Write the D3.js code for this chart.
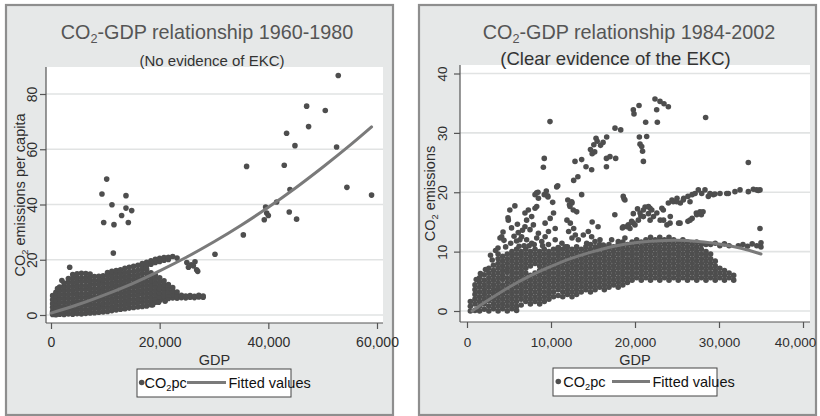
<!DOCTYPE html>
<html>
<head>
<meta charset="utf-8">
<script src="https://cdn.jsdelivr.net/npm/d3@7"></script>
<style>
  body { margin: 0; background: #fff; }
  svg { display: block; }
  text { font-family: "Liberation Sans", Arial, Helvetica, sans-serif; }
</style>
</head>
<body>
<svg id="chart" width="820" height="416"></svg>
<script>
// ---- axis ticks ----
const earlyTicksX = [0, 20000, 40000, 60000];
const earlyTicksY = [0, 20, 40, 60, 80];
const lateTicksX = [0, 10000, 20000, 30000, 40000];
const lateTicksY = [0, 10, 20, 30, 40];

// ---- quadratic fitted values, [GDP, fitted CO2] ----
const earlyFit = [[0,0.7],[5000,3.8],[10000,7.4],[15000,11.4],[20000,16.0],[25000,21.0],[30000,26.5],
  [35000,32.5],[40000,39.0],[45000,46.0],[50000,53.5],[55000,61.4],[59000,68.1]];
const lateFit = [[600,0.0],[2500,1.8],[5000,4.0],[7500,5.9],[10000,7.5],[12500,8.9],[15000,10.0],
  [17500,10.9],[20000,11.5],[22500,11.8],[25000,11.9],[27500,11.7],[30000,11.3],[32500,10.6],[35000,9.6]];

// ---- 1960-1980 observations: dense part as [GDP, co2, co2, ...] columns ----
const earlyCols = [
  [300,0.2,1.4,2.8,4.1,5.5,7.0],
  [900,0.1,1.2,2.6,4.0,5.3,6.8,8.2],
  [1600,0.3,1.5,2.9,4.4,5.9,7.3,8.8,10.1],
  [2400,0.2,1.6,3.0,4.5,6.0,7.4,8.9,10.3,11.6],
  [3200,0.4,1.8,3.2,4.6,6.1,7.5,9.0,10.4,11.9,13.2],
  [4000,0.3,1.7,3.1,4.6,6.0,7.5,8.9,10.4,11.8,13.3,14.6],
  [4800,0.5,1.9,3.4,4.8,6.3,7.7,9.2,10.6,12.0,13.5,14.9],
  [5600,0.4,1.9,3.3,4.8,6.2,7.6,9.1,10.5,12.0,13.4,15.1],
  [6400,0.6,2.0,3.5,4.9,6.4,7.8,9.3,10.7,12.2,13.6,15.0],
  [7200,0.7,2.1,3.6,5.0,6.5,7.9,9.4,10.8,12.3,13.7,14.8],
  [8000,0.8,2.3,3.7,5.2,6.6,8.1,9.5,11.0,12.4,13.9],
  [8800,1.0,2.5,3.9,5.4,6.8,8.3,9.7,11.2,12.6,14.0],
  [9600,1.1,2.6,4.0,5.5,6.9,8.4,9.8,11.3,12.7,14.2],
  [10400,1.3,2.8,4.2,5.7,7.1,8.6,10.0,11.5,12.9,14.3,15.4],
  [11200,1.6,3.0,4.5,5.9,7.4,8.8,10.3,11.7,13.2,14.6,15.8],
  [12000,1.8,3.3,4.7,6.2,7.6,9.1,10.5,12.0,13.4,14.9,16.1],
  [12800,2.1,3.5,5.0,6.4,7.9,9.3,10.8,12.2,13.7,15.1,16.4],
  [13600,2.3,3.8,5.2,6.7,8.1,9.6,11.0,12.5,13.9,15.4,16.9],
  [14400,2.5,4.0,5.4,6.9,8.3,9.8,11.2,12.7,14.1,15.6,17.3],
  [15200,2.7,4.2,5.6,7.1,8.5,10.0,11.4,12.9,14.3,15.8,17.6],
  [16000,2.9,4.4,5.8,7.3,8.7,10.2,11.6,13.1,14.6,16.2,18.0],
  [16800,3.1,4.6,6.0,7.5,8.9,10.4,11.8,13.3,14.9,16.4,17.6,18.6],
  [17600,3.3,4.8,6.2,7.7,9.1,10.6,12.0,13.6,15.1,16.6,18.0,19.1],
  [18400,3.7,5.0,6.4,7.9,9.3,10.8,12.3,13.8,15.3,18.4,19.6],
  [19200,4.6,5.9,7.3,8.8,10.2,11.6,13.0,14.5,19.0,20.2],
  [20000,5.3,6.5,7.9,9.3,10.6,12.0,13.5,19.4,20.5],
  [20800,5.8,7.0,8.4,9.7,11.0,12.4,19.8,20.8],
  [21600,6.0,7.2,8.5,9.8,11.0,20.1,20.9],
  [22400,6.2,7.4,8.6,9.9,21.2],
  [23200,6.1,7.0,8.3,20.6],
  [24000,6.3,7.1],
  [24800,6.2,6.9],
  [25600,6.4,7.0],
  [26400,6.3,6.8],
  [27200,6.5,7.1],
  [28000,6.4,6.9]
];
// ---- 1960-1980 observations outside the dense part, [GDP, CO2] ----
const earlyPts = [
  [3440,17.3],[1200,9.6],[2000,12.5],[18700,3.6],[19800,4.6],[21000,5.0],
  [10250,49.2],[9380,43.8],[13800,43.2],[11220,39.9],[13800,38.7],[14850,37.8],[13000,36.0],
  [9700,33.5],[11590,32.7],[14230,33.5],[11470,22.4],
  [25000,19.0],[25800,18.2],[26500,19.3],[26800,16.4],[25300,17.3],[27000,15.8],[26200,17.8],
  [30180,22.0],[35400,29.0],[36000,53.8],[42930,54.2],[43980,45.4],[54460,46.2],[59000,43.4],
  [39500,39.1],[41530,40.9],[39700,36.9],[40000,36.0],[39250,34.5],[43850,37.3],[45200,34.7],
  [44900,61.3],[52560,60.8],[43360,65.8],[47410,68.2],[50480,74.0],[47050,75.6],[52870,86.7]
];

// ---- 1984-2002 observations: dense part as [GDP, co2, co2, ...] columns ----
const lateCols = [
  [400,0.0,0.8,1.6],
  [950,0.1,1.2,2.0,2.8,3.6,4.4],
  [1500,0.0,0.8,1.6,2.4,3.2,4.0,4.8,5.6],
  [2050,0.3,1.2,2.0,2.8,3.6,4.4,5.2,6.1],
  [2600,0.0,0.8,1.7,2.4,3.2,4.0,4.8,5.6,6.4,7.2],
  [3150,0.4,1.2,2.0,2.9,3.6,4.4,5.2,6.0,6.8,7.7],
  [3700,0.0,0.8,1.6,2.4,3.3,4.0,4.8,5.6,6.4,7.2,8.0,8.8],
  [4250,0.4,1.2,2.0,2.8,3.6,4.4,5.3,6.0,6.8,7.6,8.4,9.2],
  [4800,0.0,0.8,1.6,2.4,3.2,4.0,4.8,5.6,6.5,7.2,8.0,8.8,9.6],
  [5350,0.4,1.2,2.0,2.8,3.6,4.4,5.2,6.0,6.8,7.6,8.4,9.2,10.0],
  [5900,0.1,0.8,1.6,2.4,3.2,4.0,4.8,5.6,6.4,7.2,8.0,8.8,9.6,10.4],
  [6450,1.0,2.0,2.8,3.6,4.4,5.2,6.0,6.8,7.6,8.4,9.2,10.0],
  [7000,1.6,2.4,3.2,4.0,4.8,5.6,6.4,7.2,8.0,8.8,9.6,10.4],
  [7550,1.2,2.0,2.8,3.6,4.4,5.2,6.0,7.6,8.4,9.2,10.0],
  [8100,1.6,2.4,3.2,4.0,4.8,5.6,6.4,8.0,8.8,9.6,10.4],
  [8650,1.2,2.0,2.8,3.6,4.4,5.2,6.0,6.8,7.6,8.4,9.2,10.0],
  [9200,1.6,2.4,3.2,4.0,4.8,5.6,6.4,7.2,8.0,8.8,9.6,10.4],
  [9750,2.0,2.8,3.6,4.4,5.2,6.0,6.8,7.6,8.4,9.2,10.0],
  [10300,2.4,3.2,4.0,4.8,5.6,6.4,7.2,8.0,8.8,9.6,10.4],
  [10850,2.6,3.6,4.4,5.2,6.0,6.8,7.6,8.4,9.2,10.0,10.7],
  [11400,2.4,3.2,4.0,4.8,5.6,6.4,7.2,8.0,8.8,9.6,10.4],
  [11950,2.8,3.6,4.4,5.2,6.0,6.8,7.6,8.4,9.2,10.0,10.8],
  [12500,2.4,3.2,4.0,4.8,5.6,6.4,7.2,8.0,8.8,9.6,10.4],
  [13050,2.8,3.6,4.4,5.2,6.0,6.8,7.6,8.4,9.2,10.0,10.8],
  [13600,3.2,4.0,4.8,5.6,6.4,7.2,8.0,8.8,9.6,10.4],
  [14150,3.6,4.4,5.2,6.0,6.8,7.6,8.4,9.2,10.0,10.8],
  [14700,3.2,4.0,4.8,5.6,6.4,7.2,8.0,8.8,9.6,10.4,11.2],
  [15250,3.6,4.4,5.2,6.0,6.8,7.6,8.4,9.2,10.0,10.8],
  [15800,4.0,4.8,5.6,6.4,7.2,8.0,8.8,9.6,10.4,11.2],
  [16350,3.6,4.4,5.2,6.0,6.8,7.6,8.4,9.2,10.0,10.8],
  [16900,4.0,4.8,5.6,6.4,7.2,8.0,8.8,9.6,10.4,11.2],
  [17450,4.4,5.2,6.0,6.8,7.6,8.4,9.2,10.0,10.8],
  [18000,4.0,4.8,5.6,6.4,7.2,8.0,8.8,9.6,10.4,11.2],
  [18550,4.4,5.2,6.0,6.8,7.6,8.4,9.2,10.0,10.8,11.6],
  [19100,4.8,5.6,6.4,7.2,8.0,8.8,9.6,10.4,11.2],
  [19650,5.2,6.0,6.8,7.6,8.4,9.2,10.0,10.8,11.6],
  [20200,5.6,6.4,7.2,8.0,8.8,9.6,10.4,11.2,12.0],
  [20750,5.2,6.0,6.8,7.6,8.4,9.2,10.0,10.8,11.6],
  [21300,5.6,6.4,7.2,8.0,8.8,9.6,10.4,11.2,12.0],
  [21850,5.2,6.0,6.8,7.6,8.4,9.2,10.0,10.8,11.6,12.4],
  [22400,5.6,6.4,7.2,8.0,8.8,9.6,10.4,11.2,12.0],
  [22950,5.2,6.0,6.8,7.6,8.4,9.2,10.0,10.8,11.6,12.4],
  [23500,5.6,6.4,7.2,8.0,8.8,9.6,10.4,11.2,12.0],
  [24050,5.2,6.0,6.8,7.6,8.4,9.2,10.0,10.8,11.6,12.4],
  [24600,5.6,6.4,7.2,8.0,8.8,9.6,10.4,11.2,12.0],
  [25150,5.2,6.0,6.8,7.6,8.4,9.2,10.0,10.8,11.6],
  [25700,5.6,6.4,7.2,8.0,8.8,9.6,10.4,11.2,12.0],
  [26250,5.2,6.0,6.8,7.6,8.4,9.2,10.0,10.8,11.6],
  [26800,5.6,6.4,7.2,8.0,8.8,9.6,10.4,11.2],
  [27350,5.2,6.0,6.8,7.6,8.4,9.2,10.0,10.8,11.6],
  [27900,5.6,6.4,7.2,8.0,8.8,9.6,10.4,11.2],
  [28450,5.2,6.0,6.8,7.6,8.4,9.2,10.0,11.2],
  [29000,5.6,6.4,7.2,8.0,8.8,9.6,11.2],
  [29550,5.2,6.0,6.8,7.6,8.4,11.4],
  [30100,5.6,6.4,7.2,11.0],
  [30650,5.2,6.0,6.8,11.3],
  [31200,5.6,6.4,11.0],
  [31750,5.2,6.0],
  [32300,11.0],[32850,11.2],[33400,10.9],[33950,11.3],[34500,11.0],[35000,10.8,11.5]
];
// ---- 1984-2002 observations outside the dense part, [GDP, CO2] ----
const latePts = [
  [9880,31.9],[15360,29.1],[16630,29.3],[17620,30.8],[18300,30.5],[20520,29.3],[21390,29.4],
  [19800,33.9],[19880,33.2],[20480,34.6],[21270,31.8],[22660,31.8],[22580,33.9],[22380,35.7],
  [22980,35.3],[23450,34.9],[23970,34.4],[28410,32.6],
  [20600,28.1],[20800,27.7],[20900,26.9],[21000,25.2],
  [9200,25.7],[9090,24.2],
  [14700,27.2],[15100,28.0],[15500,28.6],[15200,26.8],[15900,27.9],[16200,28.4],[14900,26.5],
  [16600,25.7],[16600,24.3],[17700,25.7],[17020,26.0],
  [12860,25.2],[13650,25.5],[14170,24.3],[14840,23.8],[12700,22.0],[13200,22.6],
  [10680,20.9],[8300,19.9],[9200,19.6],[9640,19.2],[9440,20.2],[8100,19.6],[8500,19.0],[13650,19.6],
  [12000,18.7],[12200,17.9],[12500,18.2],[12460,18.4],[12260,17.6],[12650,17.0],[13060,16.7],
  [18690,18.9],[18600,19.3],
  [5100,17.0],[5700,17.7],[4880,15.7],[4290,13.3],[3930,12.3],[3690,10.6],[4920,15.3],[4130,12.5],
  [6900,16.5],[7300,17.0],[8100,17.3],[8300,17.6],[7700,15.9],[7100,15.3],
  [6900,14.2],[7500,13.7],[7900,14.5],[8500,13.1],[6500,12.5],[7100,12.0],[7700,11.4],[8300,12.3],
  [8900,11.7],[9300,12.5],[9300,14.8],[9900,15.6],[10300,16.5],[10500,13.9],[9700,13.4],
  [8450,20.0],[9600,19.4],[10200,18.3],[10800,21.1],
  [10500,12.0],[11300,11.4],[11700,10.8],[10900,10.6],
  [11900,15.3],[12300,14.8],[12700,13.9],[12100,13.4],[12900,12.8],[12500,12.3],
  [13250,12.0],[13850,12.8],[14440,13.4],[14840,12.5],[14250,11.4],[15240,11.7],[15830,12.0],
  [16230,11.1],[15640,10.6],
  [14900,15.0],[15600,14.2],[17600,16.2],[18500,14.0],[19200,14.5],[18800,18.7],
  [17220,12.0],[18010,11.7],[18800,12.3],[18600,14.2],[19400,13.9],[20000,14.5],
  [19800,16.4],[20300,17.2],[20700,16.0],[21200,17.5],[21600,16.4],
  [19010,14.2],[19800,14.8],[20400,15.3],[20600,16.5],[21000,17.0],[21600,17.6],[22000,17.0],
  [22200,15.9],[22600,16.5],[23200,17.3],[23400,15.3],[23800,14.5],[24200,15.9],[24400,18.7],
  [25000,19.0],[25400,18.2],[25800,19.0],[26300,19.3],[26800,19.6],[27300,16.5],[27900,16.2],
  [28100,16.7],[25200,14.8],[26300,15.1],[26800,15.6],
  [19600,15.1],[21000,15.9],[21800,15.3],[23000,15.3],[24170,14.8],[25360,14.8],[26550,15.3],
  [23370,17.0],[21790,17.3],[27350,16.2],[27740,16.7],[23970,18.2],[24560,18.4],
  [24960,18.4],[25750,18.7],[26550,18.4],[27150,19.8],[28330,20.4],[28730,19.3],[29330,19.6],
  [30120,19.8],[30920,19.8],[31900,20.1],[32500,20.4],[33490,20.1],[34090,20.5],[34680,20.3],
  [27540,20.4],[27940,19.8],[28930,19.8],[29520,19.7],[31110,19.8],[34490,20.4],[34880,20.4],
  [33490,25.0],[34880,13.9],
  [1100,5.3],[1600,6.3],[2200,7.0],[3000,8.6],[3700,9.6],
  [5600,12.6],[6100,13.2],[5900,11.8],[6300,12.0],[5300,14.0],[6000,14.6],[6600,13.6],
  [7400,11.0],[8000,11.2],[9000,11.0],[9700,11.2],
  [2800,9.4],[4600,10.8],[5200,11.4],[6800,11.0],[3400,10.2],[4400,11.9],[6200,10.9]
];

// ---- styling ----
const PANEL_BG = "#e6e8e8";
const FRAME = "#8e8e8e";
const DOT = "#4e4e4e";
const FIT = "#7a7a7a";
const GRID = "#e1e3e3";
const AXIS = "#555";
const INK = "#2e2e2e";
const DOT_R = 2.8;

const svg = d3.select("#chart");

function expand(cols, pts) {
  const out = [];
  cols.forEach(c => { for (let i = 1; i < c.length; i++) out.push([c[0], c[i]]); });
  return out.concat(pts);
}

// text with a subscript "2" after "CO"
function co2Label(sel, pre, post, size) {
  sel.append("tspan").text(pre + "CO");
  sel.append("tspan").text("2").attr("font-size", size * 0.64).attr("dy", size * 0.22);
  sel.append("tspan").text(post).attr("dy", -size * 0.22);
  return sel;
}

function drawPanel(o) {
  const g = svg.append("g");
  const [fx, fy, fw, fh] = o.frame;
  g.append("rect").attr("x", fx).attr("y", fy).attr("width", fw).attr("height", fh)
    .attr("fill", PANEL_BG).attr("stroke", FRAME).attr("stroke-width", 2.2);

  const [L, T, R, B] = o.plot;
  g.append("rect").attr("x", L).attr("y", T).attr("width", R - L).attr("height", B - T).attr("fill", "#fff");

  const x = d3.scaleLinear().domain(o.xDomain).range(o.xRange);
  const y = d3.scaleLinear().domain(o.yDomain).range(o.yRange);

  // horizontal grid
  g.append("g").selectAll("line").data(o.yTicks).join("line")
    .attr("x1", L).attr("x2", R).attr("y1", d => y(d)).attr("y2", d => y(d))
    .attr("stroke", GRID).attr("stroke-width", 1.6);

  // scatter
  g.append("g").selectAll("circle").data(o.points).join("circle")
    .attr("cx", d => x(d[0])).attr("cy", d => y(d[1])).attr("r", DOT_R).attr("fill", DOT);

  // fitted curve
  g.append("path").datum(o.fit)
    .attr("d", d3.line().x(d => x(d[0])).y(d => y(d[1])).curve(d3.curveCatmullRom))
    .attr("fill", "none").attr("stroke", FIT).attr("stroke-width", 3).attr("stroke-linecap", "round");

  // axis lines
  g.append("line").attr("x1", L).attr("x2", R).attr("y1", B).attr("y2", B).attr("stroke", AXIS).attr("stroke-width", 1.2);
  g.append("line").attr("x1", L).attr("x2", L).attr("y1", T).attr("y2", B).attr("stroke", AXIS).attr("stroke-width", 1.2);

  // x axis ticks and labels
  const xa = g.append("g").attr("transform", `translate(0,${B})`)
    .call(d3.axisBottom(x).tickValues(o.xTicks).tickFormat(d3.format(",")).tickSize(6));
  xa.select(".domain").remove();
  xa.selectAll(".tick line").attr("stroke", AXIS).attr("stroke-width", 1.2);
  xa.selectAll(".tick text").attr("y", o.xLabelGap).attr("dy", 0)
    .attr("dx", (d, i, n) => i === n.length - 1 ? o.lastLabelShift : 0)
    .attr("font-size", o.tickSize).attr("fill", INK).style("font-family", "Liberation Sans, Arial, sans-serif");

  // y axis ticks and rotated labels
  const ya = g.append("g").attr("transform", `translate(${L},0)`)
    .call(d3.axisLeft(y).tickValues(o.yTicks).tickSize(6));
  ya.select(".domain").remove();
  ya.selectAll(".tick line").attr("stroke", AXIS).attr("stroke-width", 1.2);
  ya.selectAll(".tick text").attr("x", 0).attr("dy", 0).attr("text-anchor", "middle")
    .attr("transform", `translate(${-o.yLabelGap},0) rotate(-90)`)
    .attr("font-size", o.tickSize).attr("fill", INK).style("font-family", "Liberation Sans, Arial, sans-serif");

  // axis titles
  g.append("text").attr("x", (L + R) / 2).attr("y", o.xTitleY).attr("text-anchor", "middle")
    .attr("font-size", 14.5).attr("fill", INK).text("GDP");
  co2Label(g.append("text")
    .attr("transform", `translate(${o.yTitleX},${(T + B) / 2}) rotate(-90)`)
    .attr("text-anchor", "middle").attr("font-size", 14.5).attr("fill", INK), "", o.yTitle, 14.5);

  // titles
  co2Label(g.append("text").attr("x", o.titleX).attr("y", 39).attr("text-anchor", "middle")
    .attr("font-size", 19.8).attr("fill", "#555"), "", o.title, 19.8);
  g.append("text").attr("x", o.subX).attr("y", o.subY).attr("text-anchor", "middle")
    .attr("font-size", o.subSize).attr("fill", "#333").text(o.subtitle);

  // legend
  const [lx, ly, lw, lh] = o.legend;
  g.append("rect").attr("x", lx).attr("y", ly).attr("width", lw).attr("height", lh)
    .attr("fill", "#fff").attr("stroke", "#444").attr("stroke-width", 1);
  const cy = ly + lh / 2 - 0.5;
  g.append("circle").attr("cx", lx + o.legDot).attr("cy", cy).attr("r", DOT_R).attr("fill", DOT);
  co2Label(g.append("text").attr("x", lx + o.legText).attr("y", ly + 18.5)
    .attr("font-size", 14.5).attr("fill", "#111"), "", "pc", 14.5);
  g.append("line").attr("x1", lx + o.legLine[0]).attr("x2", lx + o.legLine[1]).attr("y1", cy).attr("y2", cy)
    .attr("stroke", FIT).attr("stroke-width", 3);
  g.append("text").attr("x", lx + o.legLine[1] + 2.5).attr("y", ly + 18.5)
    .attr("font-size", 14.5).attr("fill", "#111").text("Fitted values");
}

drawPanel({
  frame: [6, 5, 387, 410],
  plot: [46, 67, 383, 323],
  xDomain: [0, 60000], xRange: [51, 377],
  yDomain: [0, 80], yRange: [315, 94],
  xTicks: earlyTicksX, yTicks: earlyTicksY,
  points: expand(earlyCols, earlyPts), fit: earlyFit,
  tickSize: 14, xLabelGap: 24, yLabelGap: 9, lastLabelShift: 0,
  xTitleY: 365, yTitleX: 25, yTitle: " emissions per capita",
  title: "-GDP relationship 1960-1980", titleX: 207,
  subtitle: "(No evidence of EKC)", subX: 212, subY: 65.5, subSize: 15,
  legend: [137, 369, 154, 28], legDot: 4.7, legText: 7.5, legLine: [50, 89]
});

drawPanel({
  frame: [419, 5, 397, 410],
  plot: [460, 65, 810, 322],
  xDomain: [0, 40000], xRange: [467, 803],
  yDomain: [0, 40], yRange: [311, 73.5],
  xTicks: lateTicksX, yTicks: lateTicksY,
  points: expand(lateCols, latePts), fit: lateFit,
  tickSize: 13.5, xLabelGap: 24.5, yLabelGap: 13.5, lastLabelShift: -8,
  xTitleY: 365, yTitleX: 435, yTitle: " emissions",
  title: "-GDP relationship 1984-2002", titleX: 629,
  subtitle: "(Clear evidence of the EKC)", subX: 615.5, subY: 64.5, subSize: 18.5,
  legend: [553, 368, 164, 28], legDot: 5.3, legText: 10.3, legLine: [59, 97]
});
</script>
</body>
</html>
